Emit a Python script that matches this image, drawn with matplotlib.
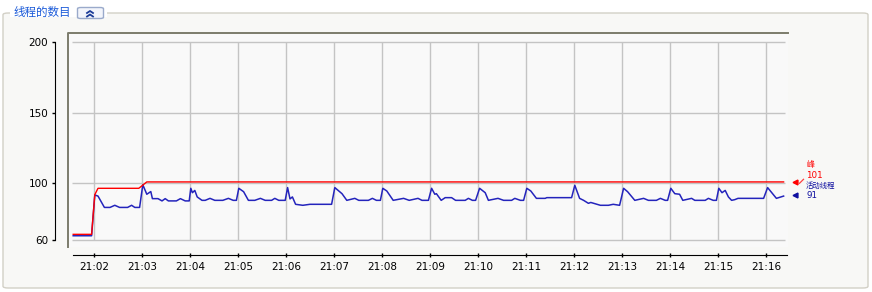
import matplotlib
matplotlib.use("Agg")
import matplotlib.pyplot as plt
from matplotlib.patches import FancyBboxPatch, Rectangle
from matplotlib.lines import Line2D
from matplotlib.ticker import FixedLocator

plt.rcParams['font.family'] = ['DejaVu Sans']
CJK = ['Noto Sans CJK SC', 'DejaVu Sans']

W, H = 872, 292

# --- data ---
active_times = [
    "21:01:34", "21:01:57", "21:02:01", "21:02:05", "21:02:13", "21:02:20",
    "21:02:26", "21:02:32", "21:02:42", "21:02:47", "21:02:51", "21:02:57",
    "21:03:01", "21:03:06", "21:03:11", "21:03:13", "21:03:20", "21:03:25",
    "21:03:29", "21:03:33", "21:03:43", "21:03:48", "21:03:54", "21:03:59",
    "21:04:01", "21:04:03", "21:04:06", "21:04:09", "21:04:15", "21:04:19",
    "21:04:25", "21:04:31", "21:04:41", "21:04:48", "21:04:54", "21:04:58",
    "21:05:01", "21:05:07", "21:05:13", "21:05:21", "21:05:28", "21:05:34",
    "21:05:42", "21:05:46", "21:05:51", "21:05:59",
    "21:06:02", "21:06:05", "21:06:08", "21:06:12", "21:06:21", "21:06:30",
    "21:06:57",
    "21:07:01", "21:07:06", "21:07:10", "21:07:16", "21:07:26", "21:07:31",
    "21:07:43", "21:07:48", "21:07:53", "21:07:58",
    "21:08:01", "21:08:06", "21:08:14", "21:08:27", "21:08:34", "21:08:45",
    "21:08:50", "21:08:58",
    "21:09:02", "21:09:06", "21:09:08", "21:09:14", "21:09:19", "21:09:27",
    "21:09:32", "21:09:44", "21:09:48", "21:09:53", "21:09:57",
    "21:10:02", "21:10:09", "21:10:13", "21:10:25", "21:10:32", "21:10:42",
    "21:10:46", "21:10:53", "21:10:57",
    "21:11:01", "21:11:06", "21:11:13", "21:11:24", "21:11:26", "21:11:57",
    "21:12:01", "21:12:07", "21:12:12", "21:12:18", "21:12:21", "21:12:26",
    "21:12:33", "21:12:43", "21:12:49", "21:12:57",
    "21:13:02", "21:13:07", "21:13:16", "21:13:27", "21:13:33", "21:13:43",
    "21:13:48", "21:13:54", "21:13:57",
    "21:14:01", "21:14:06", "21:14:12", "21:14:16", "21:14:27", "21:14:31",
    "21:14:44", "21:14:48", "21:14:54", "21:14:58",
    "21:15:01", "21:15:05", "21:15:09", "21:15:13", "21:15:17", "21:15:21",
    "21:15:25", "21:15:57",
    "21:16:02", "21:16:13", "21:16:22",
]
active_threads = [
    63, 63, 91.8, 91, 83, 83,
    84.5, 83, 83, 84.5, 83, 83,
    99, 92.3, 94.2, 89.2, 89.2, 87.6,
    89.2, 87.6, 87.6, 89.2, 87.6, 87.6,
    96.5, 93.4, 95, 90.4, 88, 88,
    89.4, 88, 88, 89.4, 88, 88,
    96.5, 94.1, 88, 88, 89.4, 88,
    88, 89.4, 88, 88,
    97, 89, 90.4, 85.2, 84.5, 85.2,
    85.2,
    97, 94.6, 92.7, 88, 89.4, 88,
    88, 89.4, 88, 88,
    96.5, 94.6, 88, 89.4, 88, 89.4,
    88, 88,
    96.5, 92.3, 92.7, 88, 89.9, 89.9,
    88, 88, 89.4, 88, 88,
    96.5, 93.4, 88, 89.4, 88, 88,
    89.4, 88, 88,
    96.5, 94.6, 89.4, 89.4, 89.9, 89.9,
    98.6, 89.4, 88, 85.9, 86.5, 85.7,
    84.5, 84.5, 85.2, 84.5,
    96.5, 94.1, 88, 89.4, 88, 88,
    89.4, 88, 88,
    96.5, 92.7, 92.3, 88, 89.4, 88,
    88, 89.4, 88, 88,
    96.5, 93.4, 95, 90.4, 88, 88.5,
    89.4, 89.4,
    97, 89.4, 91,
]

peak_times = ["21:01:34", "21:01:57", "21:02:01", "21:02:05", "21:02:56",
              "21:03:06", "21:16:22"]
peak_threads = [64, 64, 92, 96.5, 96.5, 101, 101]

y_ticks = [60, 100, 150, 200]
x_ticks = ["21:%02d" % m for m in range(2, 17)]

title = "线程的数目"
peak_label, peak_value = "峰", 101
active_label, active_value = "活动线程", 91


def secs(s):
    h, m, sec = (list(map(int, s.split(":"))) + [0])[:3]
    return h * 3600 + m * 60 + sec


def fx(x):
    return x / W


def fy(y):
    return 1 - y / H


ta = [secs(s) for s in active_times]
tp = [secs(s) for s in peak_times]
tick_pos = [secs(s) for s in x_ticks]

fig = plt.figure(figsize=(W / 100, H / 100), dpi=100, facecolor="white")

# group box frame
frame = FancyBboxPatch((fx(3), fy(288)), fx(865), (288 - 13) / H,
                       boxstyle="round,pad=0,rounding_size=0.006",
                       transform=fig.transFigure, facecolor="#f8f8f6",
                       edgecolor="#d2d0c6", linewidth=1.0, zorder=0)
fig.add_artist(frame)
fig.add_artist(Rectangle((fx(10), fy(17)), fx(97), 8 / H, transform=fig.transFigure,
                         facecolor="white", edgecolor="none", zorder=1))
fig.text(fx(13), fy(12.5), title, family=CJK, fontsize=8.3, color="#1a5ad8",
         va="center", ha="left", zorder=2)
btn = FancyBboxPatch((fx(77.5), fy(18.5)), fx(26), 11 / H,
                     boxstyle="round,pad=0,rounding_size=0.004",
                     transform=fig.transFigure, facecolor="#f3f5fb",
                     edgecolor="#9aaacb", linewidth=1.0, zorder=2)
fig.add_artist(btn)
for yc in (11.0, 14.5):
    fig.add_artist(Line2D([fx(87), fx(90), fx(93)], [fy(yc + 2), fy(yc), fy(yc + 2)],
                          transform=fig.transFigure, color="#1c3c98", lw=1.3,
                          zorder=3))

# main plot area (x 68..788, y 33..247 px)
ax = fig.add_axes([fx(68), fy(247), fx(720), 214 / H])
ax.set_facecolor("#f9f9f9")
t_left = secs("21:02") - (94 - 68) * 1.25
t_right = secs("21:02") + (788 - 94) * 1.25
ax.set_xlim(t_left, t_right)
y_per_px = 140 / (240 - 41.7)
ax.set_ylim(60 - 7 * y_per_px, 200 + 8.7 * y_per_px)

g_l = t_left + 3.7 * 1.25
g_r = t_right - 3 * 1.25
ax.hlines(y_ticks, g_l, g_r, color="#c4c4c4", lw=1.0, zorder=1)
ax.vlines(tick_pos, 60, 200, color="#c4c4c4", lw=1.0, zorder=1)

ax.plot(ta, active_threads, color="#2424bc", lw=1.1, zorder=3)
ax.plot(tp, peak_threads, color="#ff0000", lw=1.0, zorder=4)

# sunken border (top + left)
ax.plot([0, 0, 1], [0, 1, 1], transform=ax.transAxes, color="#7c7c6c",
        lw=1.4, clip_on=False, zorder=5)

for s in ("top", "right"):
    ax.spines[s].set_visible(False)
ax.spines["left"].set_position(("outward", 13 * 0.72))
ax.spines["left"].set_bounds(60, 200)
ax.spines["bottom"].set_position(("outward", 8 * 0.72))
ax.spines["bottom"].set_bounds(secs("21:01:34"), t_right - 1)
ax.yaxis.set_major_locator(FixedLocator(y_ticks))
ax.set_xticks(tick_pos, x_ticks)
ax.tick_params(axis="y", direction="out", length=2.4, width=1, pad=2.4,
               labelsize=7.5, colors="black")
ax.tick_params(axis="x", direction="inout", length=2.6, width=1, pad=3.5,
               labelsize=7.5, colors="black")

# right side legend markers
ax.plot([1.0094], [peak_value], marker="<", ms=3.5, color="#ff0000",
        transform=ax.get_yaxis_transform(), clip_on=False)
ax.plot([1.0094], [active_value + 0.5], marker="<", ms=3.5, color="#1010a0",
        transform=ax.get_yaxis_transform(), clip_on=False)
fig.add_artist(Line2D([fx(799.5), fx(803.5)], [fy(183.3), fy(179.3)],
                      transform=fig.transFigure, color="#ff4040", lw=0.9))
fig.text(fx(806), fy(165), peak_label, family=CJK, fontsize=5.8, color="#ff0000",
         va="center", ha="left")
fig.text(fx(806), fy(175), str(peak_value), fontsize=6.3, color="#ff0000",
         va="center", ha="left")
fig.text(fx(806), fy(185.5), active_label, family=CJK, fontsize=5.3,
         color="#1010a0", va="center", ha="left")
fig.text(fx(806), fy(195.5), str(active_value), fontsize=6.3, color="#1010a0",
         va="center", ha="left")

fig.savefig("out.png", dpi=100, facecolor=fig.get_facecolor())
